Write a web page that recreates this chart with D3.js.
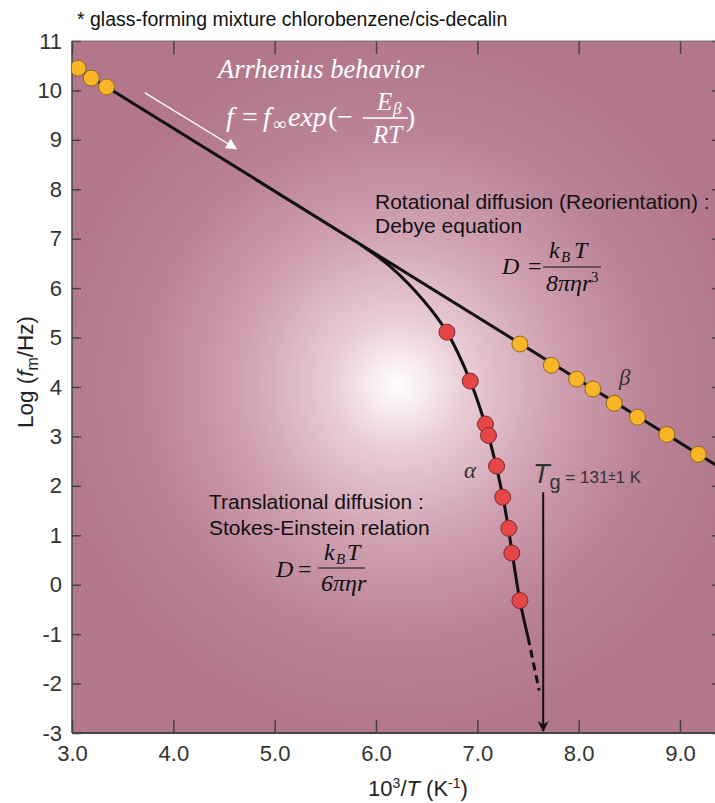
<!DOCTYPE html>
<html>
<head>
<meta charset="utf-8">
<script src="https://cdn.jsdelivr.net/npm/d3@7"></script>
<style>
  body { margin: 0; background: #fff; }
  svg { display: block; }
  text { font-family: "Liberation Sans", Arial, sans-serif; }
  .math { font-family: "Liberation Serif", "DejaVu Serif", serif; }
</style>
</head>
<body>
<svg id="chart" width="715" height="803"></svg>
<script>
// Relaxation map: 10^3/T (K^-1) against log peak frequency (Hz)

// beta (secondary) relaxation peaks
const betaX = [3.06, 3.19, 3.34, 7.42, 7.73, 7.98, 8.14, 8.35, 8.58, 8.87, 9.18];
const betaY = [10.45, 10.25, 10.07, 4.87, 4.44, 4.16, 3.96, 3.67, 3.39, 3.04, 2.64];

// alpha (structural) relaxation peaks
const alphaX = [6.70, 6.93, 7.08, 7.11, 7.19, 7.25, 7.31, 7.34, 7.42];
const alphaY = [5.11, 4.12, 3.25, 3.02, 2.40, 1.77, 1.14, 0.64, -0.32];

// Arrhenius line through the beta peaks
const arrLineX = [3.06, 9.41];
const arrLineY = [10.43, 2.35];

// VFT-type curve through the alpha peaks (solid part, then extrapolation)
const vftX = [5.85, 6.15, 6.465, 6.70, 6.93, 7.095, 7.25, 7.42, 7.50];
const vftY = [6.88, 6.42, 5.76, 5.11, 4.12, 3.12, 1.80, -0.32, -1.06];
const vftExtX = [7.50, 7.61];
const vftExtY = [-1.06, -2.14];

// glass transition marker
const tgX = 7.65;
const tgTop = 1.87;

// axis ticks
const xTicks = [3, 4, 5, 6, 7, 8, 9];
const yTicks = [-3, -2, -1, 0, 1, 2, 3, 4, 5, 6, 7, 8, 9, 10, 11];

const svg = d3.select("#chart");
const pLeft = 72, pTop = 41, pBottom = 733, pRight = 721;

const x = d3.scaleLinear().domain([3, 9]).range([pLeft, 680]);
const y = d3.scaleLinear().domain([-3, 11]).range([pBottom, pTop]);

const defs = svg.append("defs");
const grad = defs.append("radialGradient")
  .attr("id", "glow")
  .attr("gradientUnits", "userSpaceOnUse")
  .attr("cx", 398).attr("cy", 385).attr("r", 345);
[[0, "#ffffff"], [0.05, "#fbf2f5"], [0.2, "#e8cbd5"], [0.45, "#d0a1b2"], [0.72, "#bb8397"], [1, "#b2778b"]]
  .forEach(([o, c]) => grad.append("stop").attr("offset", o).attr("stop-color", c));

defs.append("clipPath").attr("id", "plotClip")
  .append("rect").attr("x", pLeft).attr("y", pTop).attr("width", pRight - pLeft).attr("height", pBottom - pTop);

defs.append("marker").attr("id", "headWhite")
  .attr("viewBox", "0 0 10 10").attr("refX", 9).attr("refY", 5)
  .attr("markerWidth", 13).attr("markerHeight", 11).attr("markerUnits", "userSpaceOnUse")
  .attr("orient", "auto")
  .append("path").attr("d", "M0,0 L10,5 L0,10 Z").attr("fill", "#fff");

defs.append("marker").attr("id", "headBlack")
  .attr("viewBox", "0 0 10 10").attr("refX", 9).attr("refY", 5)
  .attr("markerWidth", 17).attr("markerHeight", 11).attr("markerUnits", "userSpaceOnUse")
  .attr("orient", "auto")
  .append("path").attr("d", "M0,0 L10,5 L0,10 L3,5 Z").attr("fill", "#111");

// plot background
svg.append("rect")
  .attr("x", pLeft).attr("y", pTop)
  .attr("width", pRight - pLeft).attr("height", pBottom - pTop)
  .attr("fill", "url(#glow)");

// axes with inward ticks
const axisStyle = g => {
  g.selectAll(".domain").remove();
  g.selectAll(".tick line").attr("stroke", "#444").attr("stroke-width", 1.5);
  g.selectAll(".tick text").attr("fill", "#333").style("font-size", "22px")
    .style("font-family", "'Liberation Sans', Arial, sans-serif");
};

svg.append("g").attr("transform", `translate(0,${pBottom})`)
  .call(d3.axisBottom(x).tickValues(xTicks).tickSizeInner(-13).tickSizeOuter(0)
    .tickPadding(12).tickFormat(d3.format(".1f")))
  .call(axisStyle);

svg.append("g").attr("transform", `translate(0,${pTop})`)
  .call(d3.axisTop(x).tickValues(xTicks).tickSizeInner(-13).tickSizeOuter(0).tickFormat(""))
  .call(axisStyle);

svg.append("g").attr("transform", `translate(${pLeft},0)`)
  .call(d3.axisLeft(y).tickValues(yTicks).tickSizeInner(-9).tickSizeOuter(0)
    .tickPadding(10).tickFormat(d => String(d)))
  .call(axisStyle);

svg.append("g").attr("transform", `translate(${pRight},0)`)
  .call(d3.axisRight(y).tickValues(yTicks).tickSizeInner(-9).tickSizeOuter(0).tickFormat(""))
  .call(axisStyle);

// frame
svg.append("line").attr("x1", pLeft).attr("x2", pRight).attr("y1", pTop).attr("y2", pTop)
  .attr("stroke", "#777").attr("stroke-width", 1);
svg.append("line").attr("x1", pLeft).attr("x2", pLeft).attr("y1", pTop).attr("y2", pBottom)
  .attr("stroke", "#444").attr("stroke-width", 1.5);
svg.append("line").attr("x1", pLeft).attr("x2", pRight).attr("y1", pBottom).attr("y2", pBottom)
  .attr("stroke", "#444").attr("stroke-width", 2);

const plot = svg.append("g").attr("clip-path", "url(#plotClip)");

// fitted lines
const line = d3.line().x(d => x(d[0])).y(d => y(d[1]));
plot.append("path")
  .datum(d3.zip(arrLineX, arrLineY))
  .attr("d", line)
  .attr("fill", "none").attr("stroke", "#111").attr("stroke-width", 3);

plot.append("path")
  .datum(d3.zip(vftX, vftY))
  .attr("d", d3.line().x(d => x(d[0])).y(d => y(d[1])).curve(d3.curveCatmullRom.alpha(0.5)))
  .attr("fill", "none").attr("stroke", "#111").attr("stroke-width", 3);

plot.append("path")
  .datum(d3.zip(vftExtX, vftExtY))
  .attr("d", line)
  .attr("fill", "none").attr("stroke", "#111").attr("stroke-width", 3)
  .attr("stroke-dasharray", "8,5");

// Tg arrow
svg.append("line")
  .attr("x1", x(tgX)).attr("x2", x(tgX))
  .attr("y1", y(tgTop)).attr("y2", y(-3) - 2)
  .attr("stroke", "#111").attr("stroke-width", 2)
  .attr("marker-end", "url(#headBlack)");

// data points
plot.selectAll("circle.alpha")
  .data(d3.zip(alphaX, alphaY)).join("circle")
  .attr("class", "alpha")
  .attr("cx", d => x(d[0])).attr("cy", d => y(d[1])).attr("r", 8)
  .attr("fill", "#e64646").attr("stroke", "#7a2a2a").attr("stroke-width", 1);

plot.selectAll("circle.beta")
  .data(d3.zip(betaX, betaY)).join("circle")
  .attr("class", "beta")
  .attr("cx", d => x(d[0])).attr("cy", d => y(d[1])).attr("r", 8)
  .attr("fill", "#f9b526").attr("stroke", "#8a6a1e").attr("stroke-width", 1);

// Arrhenius annotation arrow
svg.append("line")
  .attr("x1", x(3.72)).attr("y1", y(9.95))
  .attr("x2", x(4.62)).attr("y2", y(8.82))
  .attr("stroke", "#fff").attr("stroke-width", 1.3)
  .attr("marker-end", "url(#headWhite)");

// title
svg.append("text").attr("x", 77).attr("y", 26)
  .style("font-size", "19.5px").attr("fill", "#111")
  .text("* glass-forming mixture chlorobenzene/cis-decalin");

// axis titles
const xt = svg.append("text").attr("x", 418).attr("y", 796)
  .attr("text-anchor", "middle").style("font-size", "22px").attr("fill", "#222");
xt.append("tspan").text("10");
xt.append("tspan").attr("dy", -8).style("font-size", "14px").text("3");
xt.append("tspan").attr("dy", 8).text("/");
xt.append("tspan").style("font-style", "italic").text("T");
xt.append("tspan").text(" (K");
xt.append("tspan").attr("dy", -8).style("font-size", "14px").text("-1");
xt.append("tspan").attr("dy", 8).text(")");

const yt = svg.append("text")
  .attr("transform", "translate(33,372) rotate(-90)")
  .attr("text-anchor", "middle").style("font-size", "22.5px").attr("fill", "#222");
yt.append("tspan").text("Log (");
yt.append("tspan").style("font-style", "italic").text("f");
yt.append("tspan").attr("dy", 5).style("font-size", "16px").text("m");
yt.append("tspan").attr("dy", -5).text("/Hz)");

// Arrhenius behaviour label and formula
svg.append("text").attr("class", "math").attr("x", 218).attr("y", 78)
  .style("font-size", "26.5px").style("font-style", "italic").attr("fill", "#fff")
  .text("Arrhenius behavior");

const mf = (sel, txt, xx, yy, size, italic) => sel.append("text").attr("class", "math")
  .attr("x", xx).attr("y", yy).style("font-size", size + "px")
  .style("font-style", italic ? "italic" : "normal").text(txt);

const arr = svg.append("g").attr("fill", "#fff");
mf(arr, "f", 226, 126, 28, true);
mf(arr, "=", 242, 126, 28, false);
mf(arr, "f", 263, 126, 28, true);
mf(arr, "∞", 273, 130, 18, false);
mf(arr, "exp", 288, 126, 28, true);
mf(arr, "(", 328, 126, 28, false);
mf(arr, "−", 337, 126, 28, false);
arr.append("line").attr("x1", 363).attr("x2", 408).attr("y1", 118).attr("y2", 118)
  .attr("stroke", "#fff").attr("stroke-width", 1.3);
mf(arr, "E", 377, 110, 25, true);
mf(arr, "β", 393, 114, 17, true);
mf(arr, "RT", 373, 143, 25, true);
mf(arr, ")", 406, 126, 28, false);

// rotational diffusion
svg.append("text").attr("x", 375).attr("y", 209).style("font-size", "21px").attr("fill", "#111")
  .text("Rotational diffusion (Reorientation) :");
svg.append("text").attr("x", 375).attr("y", 233).style("font-size", "21px").attr("fill", "#111")
  .text("Debye equation");

const d1 = svg.append("g").attr("fill", "#111");
mf(d1, "D", 502, 274, 24, true);
mf(d1, "=", 528, 274, 24, false);
d1.append("line").attr("x1", 543).attr("x2", 601).attr("y1", 267).attr("y2", 267)
  .attr("stroke", "#111").attr("stroke-width", 1.2);
mf(d1, "k", 549, 258, 24, true);
mf(d1, "B", 561, 262, 15, true);
mf(d1, "T", 574, 258, 24, true);
mf(d1, "8πηr", 546, 291, 24, true);
mf(d1, "3", 591, 282, 15, false);

// translational diffusion
svg.append("text").attr("x", 209).attr("y", 509).style("font-size", "21px").attr("fill", "#111")
  .text("Translational diffusion :");
svg.append("text").attr("x", 209).attr("y", 535).style("font-size", "21px").attr("fill", "#111")
  .text("Stokes-Einstein relation");

const d2 = svg.append("g").attr("fill", "#111");
mf(d2, "D", 276, 577, 24, true);
mf(d2, "=", 298, 577, 24, false);
d2.append("line").attr("x1", 318).attr("x2", 365).attr("y1", 568).attr("y2", 568)
  .attr("stroke", "#111").attr("stroke-width", 1.2);
mf(d2, "k", 324, 560, 24, true);
mf(d2, "B", 336, 564, 15, true);
mf(d2, "T", 347, 560, 24, true);
mf(d2, "6πηr", 321, 591, 24, true);

// relaxation labels
mf(svg, "β", 619, 385, 23, true).attr("fill", "#333");
mf(svg, "α", 464, 478, 23, true).attr("fill", "#333");

// Tg label
const tg = svg.append("text").attr("x", 533).attr("y", 483).attr("fill", "#333");
tg.append("tspan").style("font-size", "27px").style("font-style", "italic").text("T");
tg.append("tspan").attr("dy", 6).style("font-size", "20px").text("g");
tg.append("tspan").attr("dy", -6).style("font-size", "17px").text(" = 131");
tg.append("tspan").attr("dy", -3).style("font-size", "13px").text("±");
tg.append("tspan").attr("dy", 3).style("font-size", "17px").text("1 K");
</script>
</body>
</html>
